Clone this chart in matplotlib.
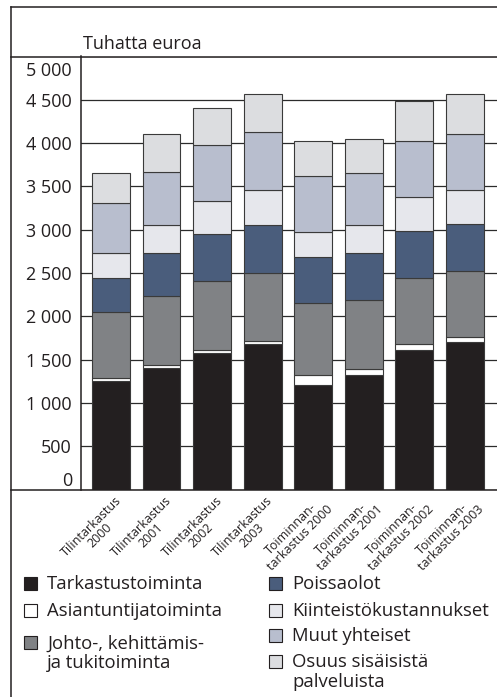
import numpy as np
import matplotlib
matplotlib.use("Agg")
import matplotlib.pyplot as plt
from matplotlib.lines import Line2D
from matplotlib.patches import Rectangle
from matplotlib.transforms import ScaledTranslation

plt.rcParams['font.family'] = ['Open Sans', 'DejaVu Sans']

categories = ["Tilintarkastus\n2000", "Tilintarkastus\n2001", "Tilintarkastus\n2002",
              "Tilintarkastus\n2003", "Toiminnan-\ntarkastus 2000", "Toiminnan-\ntarkastus 2001",
              "Toiminnan-\ntarkastus 2002", "Toiminnan-\ntarkastus 2003"]

# thousand euros
tarkastus = [1250, 1400, 1575, 1675, 1210, 1320, 1610, 1700]
asiantuntija = [35, 40, 40, 40, 110, 75, 75, 65]
johto = [760, 795, 795, 785, 835, 790, 755, 760]
poissaolot = [395, 500, 535, 555, 530, 545, 540, 540]
kiinteisto = [290, 320, 390, 400, 290, 320, 400, 395]
muut = [575, 610, 645, 670, 645, 610, 640, 645]
osuus = [350, 435, 430, 440, 400, 385, 470, 465]

series = [tarkastus, asiantuntija, johto, poissaolot, kiinteisto, muut, osuus]
names = ["Tarkastustoiminta", "Asiantuntijatoiminta", "Johto-, kehittämis-\nja tukitoiminta",
         "Poissaolot", "Kiinteistökustannukset", "Muut yhteiset", "Osuus sisäisistä\npalveluista"]
colors = ["#231f20", "#ffffff", "#808285", "#4a5d7c", "#e6e7ec", "#b8bece", "#dcdde0"]

W, H = 497, 697
fig = plt.figure(figsize=(W / 100, H / 100), dpi=100)
ax = fig.add_axes([81 / W, 1 - 489.5 / H, 416 / W, 433 / H])

x = np.arange(len(categories))
bottom = np.zeros(len(categories))
for vals, col in zip(series, colors):
    vals = np.array(vals, dtype=float)
    ax.bar(x, vals, 0.75, bottom=bottom, color=col, edgecolor='#3a3a3a',
           linewidth=0.8, zorder=3)
    bottom += vals

ax.set_xlim(-0.594, 7.64)
ax.set_ylim(0, 5000)
yt = list(range(0, 5001, 500))
ax.set_yticks(yt)
ax.set_yticklabels([f"{v:,}".replace(",", " ") for v in yt])
ax.yaxis.grid(True, color='#2b2b2b', lw=0.9)
ax.set_axisbelow(True)
ax.tick_params(axis='y', length=0, pad=6.5, labelsize=13, colors='#231f20')
ax.tick_params(axis='x', length=0, pad=3, labelsize=9, colors='#231f20')
labs = ax.get_yticklabels()
labs[0].set_va('bottom')
labs[-1].set_va('top')
labs[-1].set_transform(labs[-1].get_transform()
                       + ScaledTranslation(0, -4 / 72, fig.dpi_scale_trans))

ax.set_xticks(x)
ax.set_xticklabels(categories, rotation=45, ha='right', rotation_mode='anchor',
                   multialignment='center', linespacing=1.0)
off = ScaledTranslation(2.5 / 72, 0, fig.dpi_scale_trans)
for t in ax.get_xticklabels():
    t.set_transform(t.get_transform() + off)

for s in ['top', 'right', 'bottom']:
    ax.spines[s].set_visible(False)
ax.spines['left'].set_color('#231f20')
ax.spines['left'].set_linewidth(1.1)

# frame lines
lc = '#231f20'
fig.add_artist(Line2D([11 / W, 1], [1 - 7 / H] * 2, color=lc, lw=1.1))
fig.add_artist(Line2D([11 / W, 11 / W], [0, 1 - 7 / H], color=lc, lw=1.1))
fig.add_artist(Line2D([11 / W, 1], [1 - 56.5 / H] * 2, color=lc, lw=1.1))
fig.add_artist(Line2D([11 / W, 1], [1 - 489.5 / H] * 2, color=lc, lw=1.1))

fig.text(83 / W, 1 - 49 / H, "Tuhatta euroa", fontsize=13, color=lc, va='baseline')

# legend drawn by hand: (square left x, baseline of first text line)
leg_pos = [(24, 589), (24, 616), (24, 648), (269, 589), (269, 616), (269, 641), (269, 667)]
for (px, by), name, col in zip(leg_pos, names, colors):
    fig.add_artist(Rectangle((px / W, 1 - (by + 1) / H), 13 / W, 13 / H,
                             facecolor=col, edgecolor='#231f20', lw=0.8,
                             transform=fig.transFigure))
    last = by + 20 * name.count("\n")
    fig.text((px + 23) / W, 1 - last / H, name, fontsize=13.3, color=lc,
             va='baseline', linespacing=1.12)

fig.savefig("out.png", dpi=100)
